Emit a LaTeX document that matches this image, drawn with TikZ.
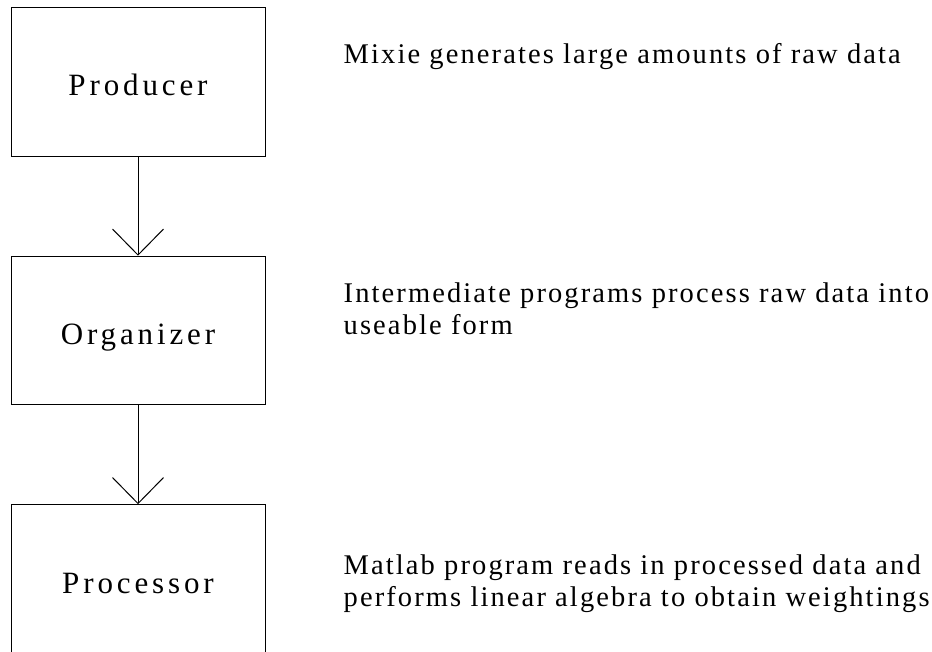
\documentclass[tikz,border=0pt]{standalone}
\usepackage{fontspec}
\setmainfont{Liberation Serif}
\newfontfamily\stagefont{Liberation Serif}[LetterSpace=12.5]
\newfontfamily\notefont{Liberation Serif}[LetterSpace=7.4]
\usetikzlibrary{positioning,arrows.meta}

\tikzset{
  stage/.style={draw, line width=1pt, minimum width=254pt,
    minimum height=148.5pt, inner sep=0pt, text height=28pt, text depth=0pt,
    font=\stagefont\fontsize{31pt}{36pt}\selectfont},
  note/.style={align=left, inner sep=0pt,
    font=\notefont\fontsize{28.5pt}{32pt}\selectfont},
  flow/.style={line width=1pt, -{Straight Barb[length=26pt,width=51pt]}},
}

\begin{document}
\begin{tikzpicture}

  % Page frame
  \useasboundingbox (0,0) rectangle (932pt,-652pt); %
  \clip (0,0) rectangle (932pt,-652pt); %

  % Stages
  \node[stage] (prod) at (138pt,-82pt) {Producer}; %
  \node[stage, below=99pt of prod] (org)  {Organizer}; %
  \node[stage, below=99pt of org]  (proc) {Processor}; %

  % Notes (base anchor sits on the last line)
  \node[note, right=78pt of prod, anchor=base west, yshift=18pt] (prod-note)
  {Mixie generates large amounts of raw data}; %
  \node[note, right=78pt of org, anchor=base west, yshift=-4pt] (org-note)
  {Intermediate programs process raw data into\\useable form}; %
  \node[note, right=78pt of proc, anchor=base west, yshift=-27pt] (proc-note)
  {Matlab program reads in processed data and\\performs linear algebra to obtain weightings}; %

  % Flow
  \draw[flow] (prod) -- (org); %
  \draw[flow] (org) -- (proc); %

\end{tikzpicture}
\end{document}
